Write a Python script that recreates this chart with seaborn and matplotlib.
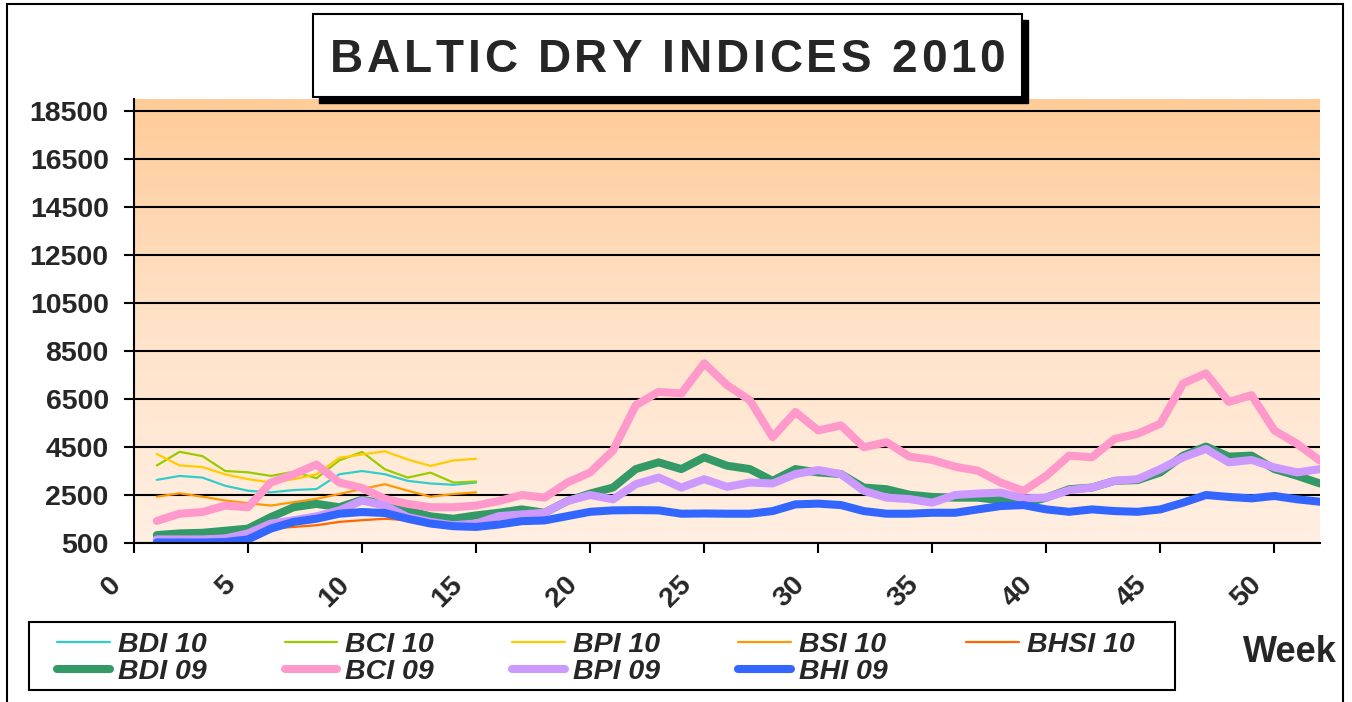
import matplotlib
matplotlib.use("Agg")
import matplotlib.pyplot as plt
import matplotlib.transforms as mtransforms
from matplotlib.colors import LinearSegmentedColormap
from matplotlib.patches import Rectangle
import numpy as np
import seaborn as sns

# Data
weeks_10 = list(range(1, 16))
weeks_09 = list(range(1, 53))

bdi_10 = [3130, 3295, 3226, 2884, 2678, 2610, 2706, 2747, 3363, 3500, 3363, 3089, 2980, 2925, 3020]
bci_10 = [3730, 4300, 4120, 3500, 3445, 3295, 3470, 3200, 3940, 4295, 3570, 3226, 3430, 3020, 3060]
bpi_10 = [4210, 3730, 3665, 3360, 3160, 3020, 3160, 3360, 4050, 4190, 4320, 3980, 3710, 3940, 4010]
bsi_10 = [2430, 2570, 2430, 2270, 2160, 2060, 2200, 2340, 2540, 2750, 2950, 2680, 2430, 2540, 2610]
bhsi_10 = [700, 730, 760, 820, 900, 1100, 1170, 1240, 1380, 1450, 1510, 1450, 1400, 1350, 1330]

bdi_09 = [830, 900, 925, 1010, 1100, 1580, 1990, 2130, 1990, 2300, 2130, 1860, 1610, 1510, 1650,
          1760, 1900, 1760, 2250, 2560, 2810, 3580, 3860, 3580, 4070, 3720, 3580, 3090, 3580, 3440,
          3370, 2810, 2740, 2510, 2420, 2390, 2390, 2280, 2140, 2390, 2740, 2810, 3090, 3120, 3440,
          4140, 4520, 4100, 4140, 3580, 3300, 2980]
bci_09 = [1420, 1720, 1790, 2060, 1990, 3020, 3360, 3770, 3020, 2790, 2340, 2130, 1990, 1990, 2060,
          2250, 2500, 2390, 3020, 3440, 4350, 6240, 6800, 6730, 7990, 7080, 6450, 4910, 5960, 5190,
          5400, 4490, 4700, 4100, 3960, 3680, 3510, 3020, 2670, 3300, 4140, 4070, 4840, 5050, 5470,
          7150, 7570, 6380, 6660, 5190, 4630, 3930]
bpi_09 = [650, 650, 650, 690, 900, 1310, 1450, 1610, 1860, 2270, 2060, 1580, 1380, 1240, 1310,
          1620, 1690, 1760, 2250, 2500, 2320, 2950, 3230, 2810, 3160, 2840, 3020, 2980, 3370, 3540,
          3370, 2670, 2390, 2330, 2180, 2500, 2560, 2600, 2360, 2390, 2700, 2810, 3090, 3160, 3580,
          4070, 4420, 3860, 3960, 3650, 3440, 3580]
bhi_09 = [520, 520, 520, 540, 650, 1100, 1380, 1510, 1720, 1790, 1750, 1510, 1310, 1200, 1170,
          1270, 1410, 1440, 1620, 1800, 1860, 1870, 1860, 1720, 1730, 1720, 1720, 1830, 2110, 2140,
          2080, 1830, 1720, 1720, 1760, 1760, 1900, 2040, 2080, 1900, 1800, 1900, 1830, 1800, 1900,
          2180, 2500, 2420, 2360, 2460, 2320, 2220]

y_ticks = list(range(500, 18501, 2000))
x_ticks = list(range(0, 51, 5))

series = [
    ("BDI 10", weeks_10, bdi_10, "#33CCCC", 1.6),
    ("BCI 10", weeks_10, bci_10, "#99CC00", 1.6),
    ("BPI 10", weeks_10, bpi_10, "#FFCC00", 1.6),
    ("BSI 10", weeks_10, bsi_10, "#FF9900", 1.6),
    ("BHSI 10", weeks_10, bhsi_10, "#FF6600", 1.6),
    ("BDI 09", weeks_09, bdi_09, "#339966", 5.8),
    ("BCI 09", weeks_09, bci_09, "#FF99CC", 5.8),
    ("BPI 09", weeks_09, bpi_09, "#CC99FF", 5.8),
    ("BHI 09", weeks_09, bhi_09, "#3366FF", 5.8),
]

sns.set_style("white")
plt.rcParams['font.family'] = ['Liberation Sans', 'DejaVu Sans']

fig = plt.figure(figsize=(13.52, 7.02), dpi=100)
W, H = 1352, 702
ax = fig.add_axes([134 / W, 1 - 543 / H, (1320 - 134) / W, (543 - 99) / H])

# gradient plot background
grad = np.linspace(0, 1, 256).reshape(-1, 1)
cmap = LinearSegmentedColormap.from_list("peach", ["#FFEFE2", "#FFE2C8", "#FFCB97"])
ax.imshow(grad, extent=[0, 1, 0, 1], transform=ax.transAxes, aspect='auto',
          origin='lower', cmap=cmap, zorder=0)

for name, x, y, color, lw in series:
    sns.lineplot(x=x, y=y, ax=ax, color=color, linewidth=lw, label=name,
                 estimator=None, sort=False, solid_capstyle='round',
                 solid_joinstyle='round', zorder=3)

if ax.get_legend() is not None:
    ax.get_legend().remove()

ax.set_xlim(0, 52)
ax.set_ylim(500, 19000)
ax.set_yticks(y_ticks)
ax.set_xticks(x_ticks)
ax.set_yticklabels([str(v) for v in y_ticks], fontsize=20.5, fontweight='bold')
ax.set_xticklabels([str(v) for v in x_ticks], fontsize=20.5, fontweight='bold',
                   rotation=45, ha='right', va='center', rotation_mode='anchor')
ax.set_xlabel("")
ax.set_ylabel("")

ax.yaxis.grid(True, color='black', linewidth=1.5, zorder=1)
ax.xaxis.grid(False)
ax.set_axisbelow(False)
for gl in ax.get_ygridlines():
    gl.set_zorder(1)

ax.tick_params(axis='both', direction='out', length=7.2, width=1.5, color='black')
ax.tick_params(axis='y', pad=11, left=True)
ax.tick_params(axis='x', pad=20, bottom=True)
offset = mtransforms.ScaledTranslation(-17 / 100, 0, fig.dpi_scale_trans)
for lbl in ax.get_xticklabels():
    lbl.set_transform(lbl.get_transform() + offset)

for side in ['top', 'right']:
    ax.spines[side].set_visible(False)
for side in ['left', 'bottom']:
    ax.spines[side].set_color('black')
    ax.spines[side].set_linewidth(1.5)
    ax.spines[side].set_zorder(5)

# outer chart frame
fig.patches.append(Rectangle((7 / W, -0.05), 1336 / W, 1.05 - 4 / H, transform=fig.transFigure,
                             fill=False, edgecolor='black', linewidth=1.5, zorder=0))

# title box with shadow
fig.patches.append(Rectangle((319 / W, 1 - 103 / H), 709 / W, 83 / H, transform=fig.transFigure,
                             facecolor='black', edgecolor='black', zorder=1))
fig.patches.append(Rectangle((313 / W, 1 - 97 / H), 709 / W, 83 / H, transform=fig.transFigure,
                             facecolor='white', edgecolor='black', linewidth=1.5, zorder=2))

# letter-spaced title, one glyph at a time
title = "BALTIC DRY INDICES 2010"
renderer = fig.canvas.get_renderer()
title_px = 33 * 100 / 72
widths = []
for ch in title:
    if ch == " ":
        widths.append(0.278 * title_px)
        continue
    t = fig.text(0, 0, ch, fontsize=33, fontweight='bold')
    widths.append(t.get_window_extent(renderer).width)
    t.remove()
track = (675 - sum(widths)) / (len(title) - 1)
xpos = 330.0
for ch, w in zip(title, widths):
    if ch != " ":
        fig.text(xpos / W, 1 - 72 / H, ch, fontsize=33, fontweight='bold',
                 ha='left', va='baseline', zorder=3)
    xpos += w + track

# legend box
fig.patches.append(Rectangle((29 / W, 1 - 690 / H), 1146 / W, 68 / H, transform=fig.transFigure,
                             facecolor='white', edgecolor='black', linewidth=1.5, zorder=1))
handles, labels = ax.get_legend_handles_labels()
order = [0, 5, 1, 6, 2, 7, 3, 8, 4]
leg = fig.legend([handles[i] for i in order], [labels[i] for i in order],
                 loc='upper left', bbox_to_anchor=(57 / W, 1 - 632 / H), ncol=5,
                 frameon=False, borderpad=0, borderaxespad=0, handlelength=1.85,
                 handletextpad=0.28, columnspacing=2.75, labelspacing=0.05,
                 prop=dict(weight='bold', style='italic', size=20.5))
leg.set_zorder(4)

fig.text(1290 / W, 1 - 653 / H, "Week", ha='center', va='center', fontsize=26, fontweight='bold')

fig.savefig("out.png", dpi=100)
